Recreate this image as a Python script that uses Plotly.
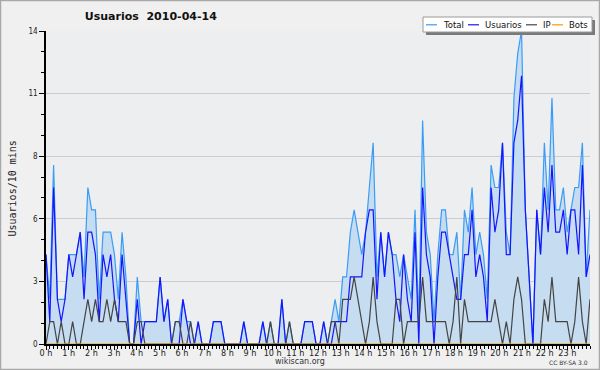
import plotly.graph_objects as go

# ---- data (10-minute slots, 2010-04-14) ----
usuarios = [4,1,7,2,1,2,4,3,4,5,2,5,5,4,1,4,3,4,2,1,4,2,0,0,
            2,0,1,1,1,1,3,1,2,0,0,0,2,1,0,0,1,0,0,0,1,1,1,0,
            0,0,0,0,1,0,0,0,0,1,0,0,0,0,2,0,0,0,0,0,1,1,1,0,
            0,1,0,0,1,1,1,1,3,3,3,3,5,6,6,2,5,3,5,4,2,1,4,2,
            1,5,0,7,4,3,0,3,5,5,4,3,2,2,4,4,6,3,4,3,1,7,5,6,
            9,4,4,9,10,12,6,3,0,6,4,7,5,8,5,5,6,4,6,6,4,8,3,4]
ip       = [0,1,1,0,1,0,0,1,0,0,1,2,1,2,1,1,2,1,2,1,1,1,0,0,
            1,1,0,0,0,0,0,0,0,0,1,1,0,0,1,0,0,0,0,0,0,0,0,0,
            0,0,0,0,0,0,0,0,0,0,0,1,0,0,0,0,1,0,0,0,0,0,0,0,
            0,0,0,1,1,0,2,2,2,3,2,1,0,1,3,1,0,0,0,0,2,2,0,1,
            1,1,1,3,1,1,1,1,1,1,0,1,3,0,2,1,1,1,1,1,1,1,2,1,
            0,1,0,2,3,2,0,0,0,0,0,2,1,3,1,1,1,1,0,1,3,1,0,2]
total    = [4,2,8,2,2,2,4,4,4,5,3,7,6,6,2,5,5,5,4,2,5,3,0,0,
            3,1,1,1,1,1,3,1,2,0,1,1,2,1,1,0,1,0,0,0,1,1,1,0,
            0,0,0,0,1,0,0,0,0,1,0,1,0,0,2,0,1,0,0,0,1,1,1,0,
            0,1,0,1,2,1,3,3,5,6,5,4,5,7,9,3,5,3,5,4,4,3,4,3,
            2,6,1,10,5,4,1,4,6,6,4,4,5,2,6,5,7,4,5,4,2,8,7,7,
            9,5,4,11,13,14,6,3,0,6,4,9,6,11,6,6,7,5,6,7,7,9,3,6]
bots     = [0] * 144
slots = list(range(len(total)))
hour_labels = [f"{h} h" for h in range(24)]
y_ticks = [0, 2.8, 5.6, 8.4, 11.2, 14]

# ---- geometry helpers ----
W, H = 600, 370
L, R, T, B = 46, 10, 31, 26
PW, PH = W - L - R, H - T - B
def px(x): return (x - L) / PW
def py(y): return (H - B - y) / PH

C_TOTAL = "#3a9cf5"
C_FILL = "#c6dcf0"
C_USR = "#1414ff"
C_IP = "#444444"
C_BOTS = "#ff9900"

fig = go.Figure()
fig.add_trace(go.Scatter(x=slots, y=total, mode="lines", name="Total",
                         line=dict(color=C_TOTAL, width=1.2),
                         fill="tozeroy", fillcolor=C_FILL))
fig.add_trace(go.Scatter(x=slots, y=usuarios, mode="lines", name="Usuarios",
                         line=dict(color=C_USR, width=1.2)))
fig.add_trace(go.Scatter(x=slots, y=ip, mode="lines", name="IP",
                         line=dict(color=C_IP, width=1.2)))
fig.add_trace(go.Scatter(x=slots, y=bots, mode="lines", name="Bots",
                         line=dict(color=C_BOTS, width=1.2)))

n = len(slots) - 1
tick_font = dict(family="Liberation Sans Narrow, DejaVu Sans Condensed, Arial Narrow, sans-serif",
                 size=9, color="#222")

fig.update_xaxes(range=[0, n], tickmode="array",
                 tickvals=[h * n / 24 for h in range(24)], ticktext=hour_labels,
                 ticks="outside", ticklen=4, tickcolor="#000", tickwidth=1,
                 showline=True, linecolor="#000", linewidth=1.5,
                 showgrid=False, zeroline=False, tickfont=tick_font,
                 automargin=False, ticklabelstandoff=-5,
                 minor=dict(ticks="outside", ticklen=3, tickcolor="#000",
                            tick0=0, dtick=n / 144, showgrid=False))
fig.update_yaxes(range=[0, 14], tickmode="array", tickvals=y_ticks,
                 ticktext=[f"{v:.0f}" for v in y_ticks],
                 ticks="outside", ticklen=5, tickcolor="#000", tickwidth=1,
                 showline=True, linecolor="#000", linewidth=1.5,
                 showgrid=True, gridcolor="#cccccc", gridwidth=1,
                 zeroline=False, tickfont=dict(tick_font, size=8),
                 automargin=False,
                 minor=dict(ticks="outside", ticklen=3, tickcolor="#000",
                            tick0=0, dtick=14 / 15, showgrid=False))

shapes = [
    # outer frame
    dict(type="rect", xref="paper", yref="paper", x0=px(0.5), x1=px(W - 0.5),
         y0=py(H - 0.5), y1=py(0.5), line=dict(color="#a8a8a8", width=1.5),
         fillcolor="rgba(0,0,0,0)", layer="above"),
    # legend shadow + box
    dict(type="rect", xref="paper", yref="paper", x0=px(426), x1=px(595),
         y0=py(35), y1=py(20), line=dict(width=0), fillcolor="#7a7a7a", layer="above"),
    dict(type="rect", xref="paper", yref="paper", x0=px(423), x1=px(592),
         y0=py(32), y1=py(17), line=dict(color="#9a9a9a", width=1),
         fillcolor="#ffffff", layer="above"),
]
annotations = []
legend_items = [("Total", C_TOTAL, 426), ("Usuarios", C_USR, 468),
                ("IP", C_IP, 526), ("Bots", C_BOTS, 552)]
for name, col, x0 in legend_items:
    shapes.append(dict(type="line", xref="paper", yref="paper", x0=px(x0), x1=px(x0 + 11),
                       y0=py(24.8), y1=py(24.8), line=dict(color=col, width=1.2), layer="above"))
    annotations.append(dict(text=name, xref="paper", yref="paper", x=px(x0 + 15), y=py(24.8),
                            xanchor="left", yanchor="middle", showarrow=False,
                            font=dict(family="DejaVu Sans", size=8.5, color="#111")))

annotations += [
    dict(text="Usuarios/10 mins", xref="paper", yref="paper", x=px(12), y=py(188.5),
         textangle=-90, showarrow=False, xanchor="center", yanchor="middle",
         font=dict(family="DejaVu Sans Mono", size=10, color="#222")),
    dict(text="wikiscan.org", xref="paper", yref="paper", x=px(300), y=py(361),
         showarrow=False, xanchor="center", yanchor="middle",
         font=dict(family="DejaVu Sans", size=8, color="#333")),
    dict(text="CC BY-SA 3.0", xref="paper", yref="paper", x=px(590), y=py(362),
         showarrow=False, xanchor="right", yanchor="middle",
         font=dict(family="DejaVu Sans", size=6, color="#333")),
]

fig.update_layout(
    width=W, height=H, margin=dict(l=L, r=R, t=T, b=B, pad=0),
    paper_bgcolor="#f0f0f0", plot_bgcolor="#edeef0",
    showlegend=False,
    title=dict(text="<b>Usuarios  2010-04-14</b>", xref="container", yref="container",
               x=150.8 / W, y=1 - 16.5 / H, xanchor="center", yanchor="middle",
               font=dict(family="DejaVu Sans", size=11, color="#111")),
    shapes=shapes, annotations=annotations,
)
fig.write_html("out.html", config={"displayModeBar": False},
               post_script="document.body.style.margin='0';document.body.style.padding='0';")
